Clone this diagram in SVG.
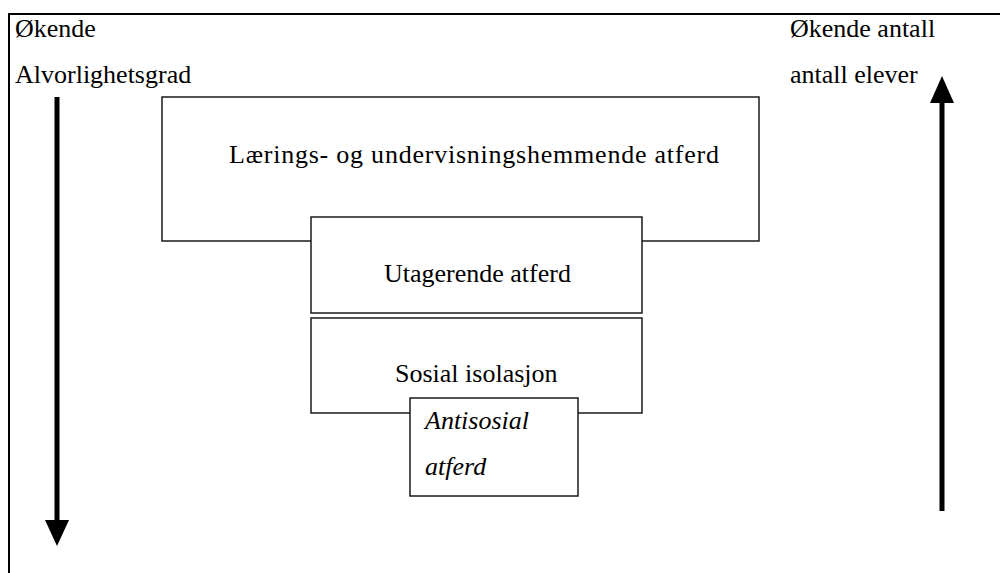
<svg xmlns="http://www.w3.org/2000/svg" width="1000" height="573" viewBox="0 0 1000 573">
  <style>
    .box { fill: #ffffff; stroke: #1a1a1a; stroke-width: 1.5; }
    .lbl { font-family: "Liberation Serif", "Times New Roman", "DejaVu Serif", serif; font-size: 26px; fill: #000; }
    .it { font-style: italic; }
    .shaft { stroke: #000; stroke-width: 5; fill: none; }
    .head { fill: #000; }
  </style>
  <rect width="1000" height="573" fill="#ffffff"/>
  <!-- outer frame, open toward the right and bottom edges -->
  <path d="M9,573 V14 H1000" fill="none" stroke="#000" stroke-width="2"/>

  <!-- side labels -->
  <g id="label-left">
    <text class="lbl" x="15" y="37">Økende</text>
    <text class="lbl" x="15" y="83">Alvorlighetsgrad</text>
  </g>
  <g id="label-right">
    <text class="lbl" x="790" y="37">Økende antall</text>
    <text class="lbl" x="790" y="83">antall elever</text>
  </g>

  <!-- stacked levels -->
  <g id="node-learning">
    <rect class="box" x="162" y="97" width="597" height="144"/>
    <text class="lbl" x="229" y="163" textLength="490" lengthAdjust="spacing">Lærings- og undervisningshemmende atferd</text>
  </g>
  <g id="node-acting-out">
    <rect class="box" x="311" y="217" width="331" height="96"/>
    <text class="lbl" x="384" y="282">Utagerende atferd</text>
  </g>
  <g id="node-isolation">
    <rect class="box" x="311" y="318" width="331" height="95"/>
    <text class="lbl" x="395" y="382">Sosial isolasjon</text>
  </g>
  <g id="node-antisocial">
    <rect class="box" x="410" y="398" width="168" height="98"/>
    <text class="lbl it" x="425" y="429">Antisosial</text>
    <text class="lbl it" x="425" y="475">atferd</text>
  </g>

  <!-- vertical arrows -->
  <g id="connectors">
    <line class="shaft" x1="57" y1="97" x2="57" y2="522"/>
    <polygon class="head" points="45,520 69,520 57,546"/>
    <line class="shaft" x1="942" y1="511" x2="942" y2="101"/>
    <polygon class="head" points="930,103 954,103 942,76"/>
  </g>
</svg>
